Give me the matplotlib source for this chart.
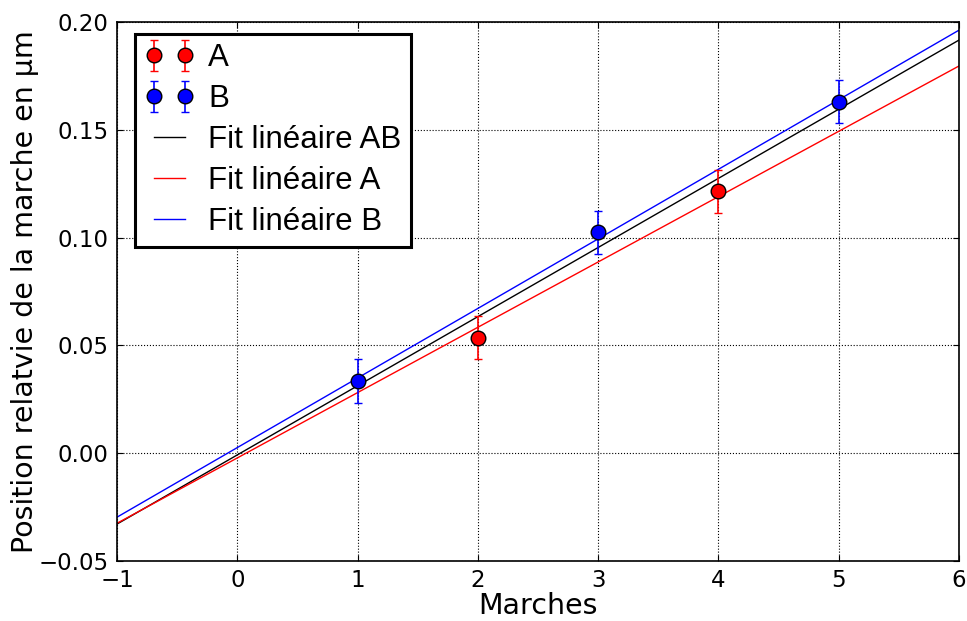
import matplotlib
matplotlib.use("Agg")
import matplotlib.pyplot as plt
import numpy as np

# mesures
x_a = [2, 4]
y_a = [0.0535, 0.1214]
err_a = [0.01, 0.01]

x_b = [1, 3, 5]
y_b = [0.0335, 0.1025, 0.1630]
err_b = [0.01, 0.01, 0.01]

# fits lineaires (pente, ordonnee a l'origine)
fit_ab = (0.03207, -0.0008)
fit_a = (0.0303, -0.0022)
fit_b = (0.03227, 0.0026)

x_range = [-1, 6]


def main():
    fig = plt.figure(figsize=(9.67, 6.21), dpi=100)
    ax = fig.add_axes([117 / 967, 1 - 561 / 621, (959 - 117) / 967, (561 - 22) / 621])

    eb_a = ax.errorbar(x_a, y_a, yerr=err_a, fmt="o", color="red", ecolor="red",
                       markeredgecolor="black", markersize=10.5, capsize=3, elinewidth=1.2,
                       label="A", zorder=4)
    eb_b = ax.errorbar(x_b, y_b, yerr=err_b, fmt="o", color="blue", ecolor="blue",
                       markeredgecolor="black", markersize=10.5, capsize=3, elinewidth=1.2,
                       label="B", zorder=4)

    xs = np.array(x_range, dtype=float)
    l_ab, = ax.plot(xs, fit_ab[0] * xs + fit_ab[1], color="black", lw=1, label="Fit linéaire AB")
    l_a, = ax.plot(xs, fit_a[0] * xs + fit_a[1], color="red", lw=1, label="Fit linéaire A")
    l_b, = ax.plot(xs, fit_b[0] * xs + fit_b[1], color="blue", lw=1, label="Fit linéaire B")

    ax.set_xlim(-1, 6)
    ax.set_ylim(-0.05, 0.20)
    ax.set_yticks([-0.05, 0.0, 0.05, 0.10, 0.15, 0.20])
    ax.grid(True, color="black", linestyle=":", linewidth=0.8)
    ax.tick_params(direction="in", top=True, right=True, length=4, labelsize=16.5, pad=6)
    for s in ax.spines.values():
        s.set_linewidth(1.2)

    ax.set_xlabel("Marches", fontsize=20.5, labelpad=0)
    ax.set_ylabel("Position relatvie de la marche en µm", fontsize=20.5, labelpad=0)

    handles = [eb_a, eb_b, l_ab, l_a, l_b]
    leg = ax.legend(handles, [h.get_label() for h in handles],
                    loc="upper left", bbox_to_anchor=(18 / 842, 1 - 12 / 539),
                    borderaxespad=0, numpoints=2, fancybox=False, framealpha=1,
                    prop={"family": "Liberation Sans", "size": 22.5},
                    borderpad=0.3, labelspacing=0.35, handlelength=1.6,
                    handletextpad=0.45)
    leg.get_frame().set_edgecolor("black")
    leg.get_frame().set_linewidth(2.2)

    fig.savefig("out.png", dpi=100)


if __name__ == "__main__":
    main()
